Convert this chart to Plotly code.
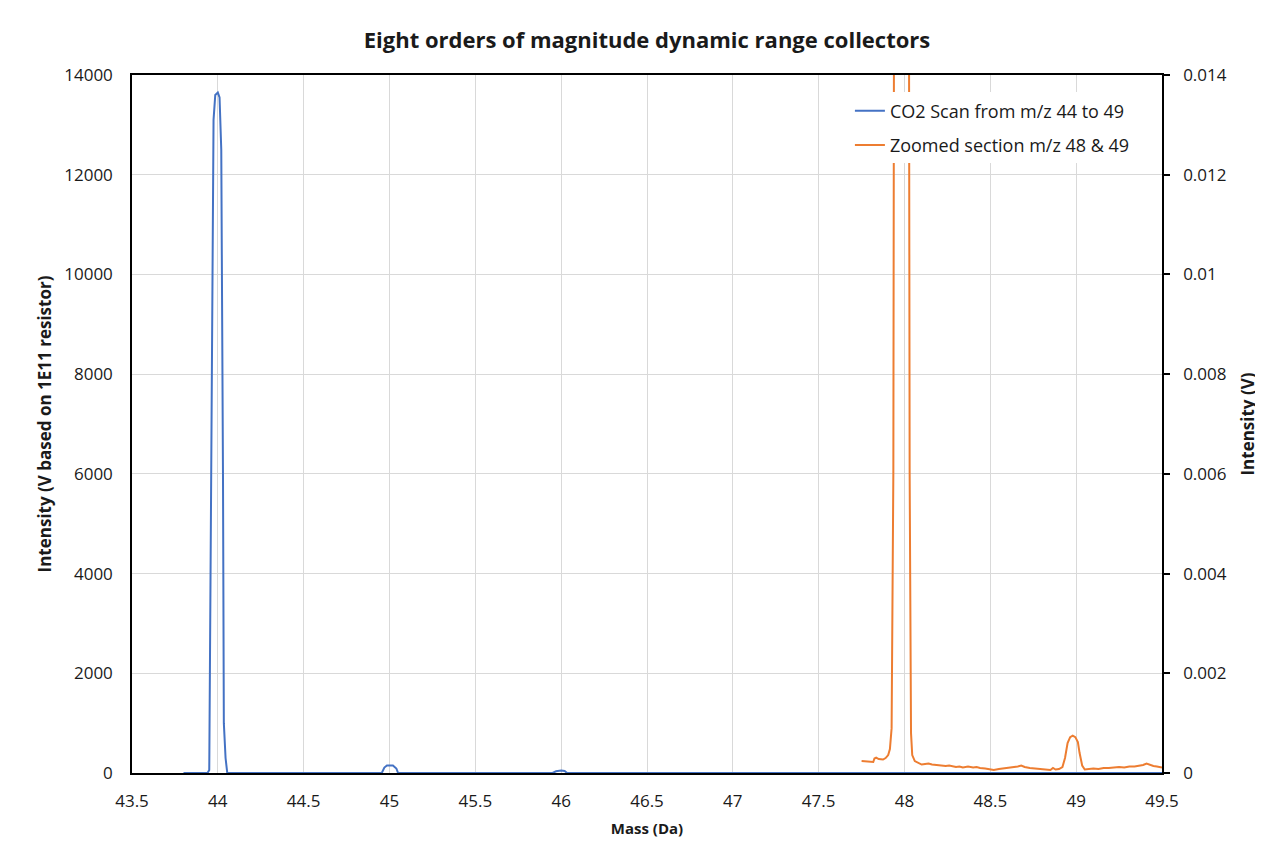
import plotly.graph_objects as go

# Blue series: CO2 scan (primary axis, V based on 1E11 resistor)
blue_mass = [43.80, 43.90, 43.94, 43.95, 43.955, 43.965, 43.975, 43.985, 44.00, 44.01, 44.02, 44.03, 44.035,
             44.045, 44.055, 44.5, 44.955, 44.97, 44.985, 45.02, 45.04, 45.05, 45.5,
             45.95, 45.97, 46.0, 46.02, 46.035, 47.0, 48.0, 49.0, 49.5]
blue_int = [0, 0, 0, 60, 2500, 9000, 13100, 13600, 13650, 13550, 12500, 6000, 1000,
            300, 0, 0, 0, 110, 150, 150, 90, 0, 0,
            0, 35, 50, 40, 0, 0, 0, 0, 0]

# Orange series: zoomed section m/z 48 & 49 (secondary axis, V)
orange_mass = [47.75, 47.78, 47.80, 47.818, 47.825, 47.835, 47.85, 47.875, 47.89, 47.905, 47.915, 47.925,
               47.935, 47.945, 48.02, 48.03, 48.038, 48.045, 48.06, 48.08, 48.10, 48.12, 48.14, 48.16,
               48.18, 48.21, 48.24, 48.26, 48.28, 48.30, 48.32, 48.34, 48.37, 48.40, 48.42, 48.44,
               48.47, 48.50, 48.52, 48.55, 48.58, 48.60, 48.63, 48.66, 48.68, 48.70, 48.73, 48.76,
               48.79, 48.82, 48.85, 48.865, 48.88, 48.90, 48.92, 48.935, 48.95, 48.965, 48.98, 48.995,
               49.01, 49.02, 49.035, 49.05, 49.07, 49.10, 49.13, 49.16, 49.19, 49.22, 49.25, 49.28,
               49.31, 49.34, 49.37, 49.39, 49.41, 49.43, 49.45, 49.47, 49.50]
orange_int = [0.00024, 0.00023, 0.00023, 0.00022, 0.00029, 0.00031, 0.00028, 0.00027, 0.00030, 0.00036, 0.00048, 0.0009,
              0.006, 0.03, 0.03, 0.006, 0.0008, 0.00036, 0.00024, 0.00020, 0.00017, 0.00018, 0.00019, 0.00017,
              0.00016, 0.00015, 0.00014, 0.00015, 0.00013, 0.00012, 0.00013, 0.00011, 0.00013, 0.00011, 0.00012, 0.00010,
              0.00009, 0.00007, 0.00006, 0.00008, 0.00009, 0.00010, 0.00012, 0.00013, 0.00015, 0.00012, 0.00010, 0.00009,
              0.00008, 0.00007, 0.00006, 0.00010, 0.00007, 0.00008, 0.00012, 0.00030, 0.00060, 0.00072, 0.00075, 0.00072,
              0.00062, 0.00040, 0.00015, 0.00007, 0.00008, 0.00009, 0.00008, 0.00010, 0.00010, 0.00011, 0.00012, 0.00011,
              0.00013, 0.00013, 0.00015, 0.00016, 0.00019, 0.00016, 0.00014, 0.00013, 0.00011]

title_text = "Eight orders of magnitude dynamic range collectors"
blue_name = "CO2 Scan from m/z 44 to 49"
orange_name = "Zoomed section m/z 48 & 49"

FONT = "Open Sans"

fig = go.Figure()
fig.add_trace(go.Scatter(x=blue_mass, y=blue_int, mode="lines", name=blue_name, legendgroup="a",
                         line=dict(color="#4472C4", width=2)))
fig.add_trace(go.Scatter(x=orange_mass, y=orange_int, mode="lines", name=orange_name, yaxis="y2",
                         legendgroup="b", line=dict(color="#ED7D31", width=2)))

fig.update_layout(
    width=1251, height=836,
    paper_bgcolor="white", plot_bgcolor="white",
    margin=dict(l=124, r=97, t=67, b=71, autoexpand=False),
    font=dict(family=FONT, color="#1a1a1a", size=17),
    title=dict(text="<b>" + title_text + "</b>", x=0.5108, xanchor="center", y=0.9617, yanchor="middle",
               font=dict(size=22, color="#1a1a1a", family=FONT)),
    xaxis=dict(range=[43.5, 49.5], dtick=0.5, tick0=43.5, showgrid=True, gridcolor="#d9d9d9", gridwidth=1,
               showline=True, linecolor="black", linewidth=1.5, mirror=True, layer="below traces",
               zeroline=False, ticks="", tickfont=dict(size=17), ticklabelstandoff=12, automargin=False,
               title=dict(text="<b>Mass (Da)</b>", font=dict(size=15), standoff=12)),
    yaxis=dict(range=[0, 14000], dtick=2000, tickformat="d", showgrid=True, gridcolor="#d9d9d9", gridwidth=1,
               showline=True, linecolor="black", linewidth=1.5, zeroline=False, ticks="",
               tickfont=dict(size=17), layer="below traces", ticklabelstandoff=14, automargin=False,
               title=dict(text="<b>Intensity (V based on 1E11 resistor)</b>", font=dict(size=17), standoff=8)),
    yaxis2=dict(range=[0, 0.014], dtick=0.002, overlaying="y", side="right", showgrid=False,
                showline=True, linecolor="black", linewidth=1.5, zeroline=False,
                ticks="outside", ticklen=6, tickcolor="black", tickwidth=1.5, automargin=False,
                tickfont=dict(size=17), layer="below traces", ticklabelstandoff=10,
                title=dict(text="<b>Intensity (V)</b>", font=dict(size=17), standoff=16)),
    legend=dict(x=0.697, y=0.975, xanchor="left", yanchor="top", bgcolor="white",
                font=dict(size=18, color="#1a1a1a"), tracegroupgap=8, itemwidth=30),
    showlegend=True,
)

fig.write_html("out.html")
